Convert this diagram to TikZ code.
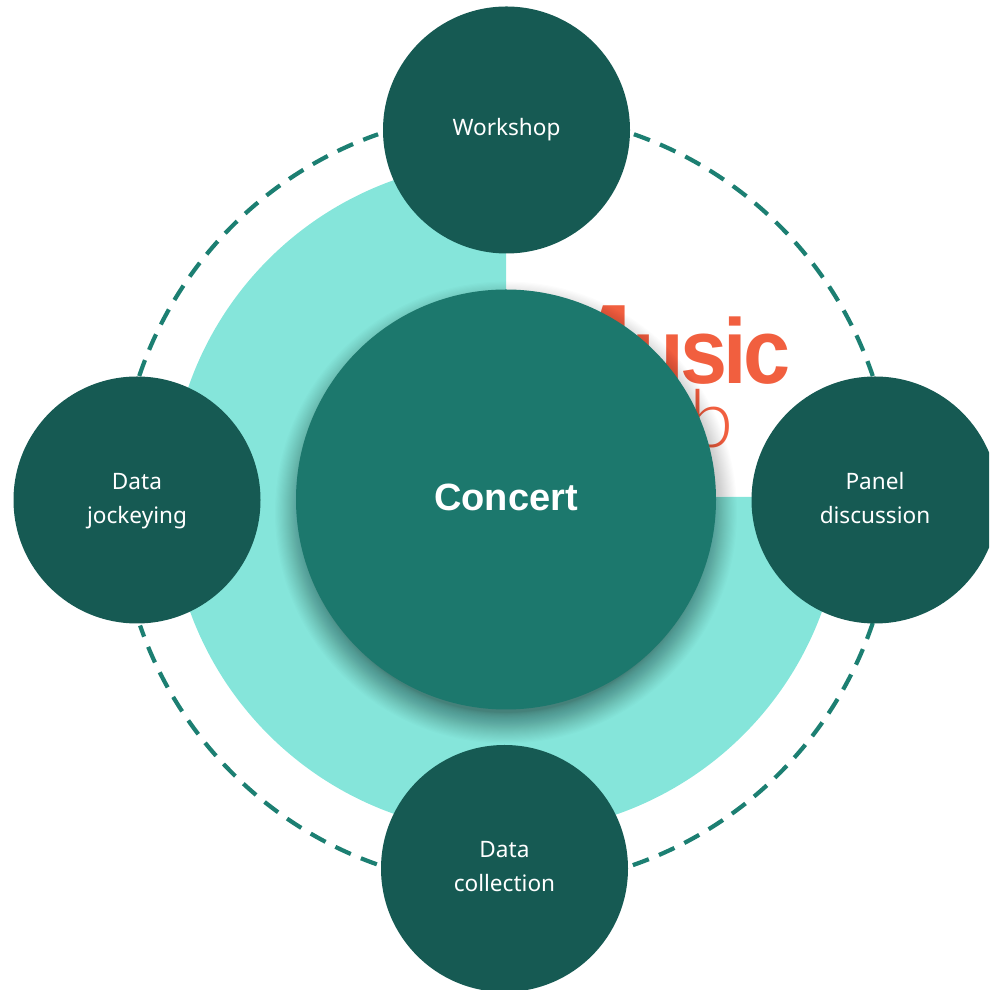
\documentclass[tikz,border=0pt]{standalone}
\usepackage{fontspec}
\usetikzlibrary{calc}
\setmainfont{Noto Sans}
\newfontfamily\musicfont[LetterSpace=-4,FakeStretch=0.92]{Liberation Sans}
\newfontfamily\capfont{Liberation Sans}
\newfontfamily\labfont{Lato Light}
\definecolor{bigc}{HTML}{1C786D}
\definecolor{smallc}{HTML}{165A53}
\definecolor{mint}{HTML}{85E5DA}
\definecolor{dashc}{HTML}{1C7F72}
\definecolor{brand}{HTML}{F15F3F}
\newcommand{\lift}[2]{\raisebox{#1}[0pt][0pt]{#2}}
\tikzset{
  x=1pt,y=1pt,
  satellite/.style={circle,fill=smallc,text=white,minimum size=247pt,inner sep=0pt,align=center,font=\fontsize{22.6}{34}\selectfont},
  hub/.style={circle,fill=bigc,text=white,minimum size=420pt,inner sep=0pt,font=\fontsize{38}{40}\selectfont\capfont\bfseries},
  orbit/.style={draw=dashc,line width=4.2pt,dash pattern=on 17pt off 11pt}
}
\begin{document}
\begin{tikzpicture}
\useasboundingbox (0,0) rectangle (989,990);
\clip (0,0) rectangle (989,990);
\coordinate (pie) at (506,493);
\coordinate (c) at (506,490.5);
% mint three-quarter disc
\fill[mint] (pie) -- ++(90:336pt) arc[start angle=90,end angle=360,radius=336pt] -- cycle;
% brand text
\node[anchor=base east,text=brand,inner sep=0pt] (music) at (791,606) {\fontsize{113}{113}\selectfont\capfont\bfseries M\kern0pt\fontsize{92}{92}\selectfont\musicfont\bfseries usic};
\node[anchor=base east,text=brand,inner sep=0pt,font=\fontsize{80}{80}\selectfont\labfont] (lab) at (734,542) {lab};
% soft shadow
\foreach \i in {1,...,40}{
  \pgfmathsetmacro{\rr}{200+31*pow(\i/40,1.5)}
  \fill[black,opacity=0.012] ($(c)+(0,-13)$) circle (\rr pt);
}
% orbit arcs
\draw[orbit] (c) ++(70.7:387pt) arc[start angle=70.7,end angle=18.6,radius=387pt];
\draw[orbit] (c) ++(-18.6:387pt) arc[start angle=-18.6,end angle=-71,radius=387pt];
\draw[orbit] (c) ++(-109.5:387pt) arc[start angle=-109.5,end angle=-161,radius=387pt];
\draw[orbit] (c) ++(161.4:387pt) arc[start angle=161.4,end angle=109.3,radius=387pt];
% nodes
\node[hub] (concert) at (c) {\lift{-11pt}{Concert}};
\node[satellite] (workshop) at (506.5,860) {\lift{-6pt}{Workshop}};
\node[satellite] (jockey) at (137,490) {\lift{-7pt}{Data}\\\lift{-7pt}{jockeying}};
\node[satellite] (panel) at (875,490) {\lift{-7pt}{Panel}\\\lift{-7pt}{discussion}};
\node[satellite] (collect) at (504.5,121.5) {\lift{-6pt}{Data}\\\lift{-6pt}{collection}};
\end{tikzpicture}
\end{document}
